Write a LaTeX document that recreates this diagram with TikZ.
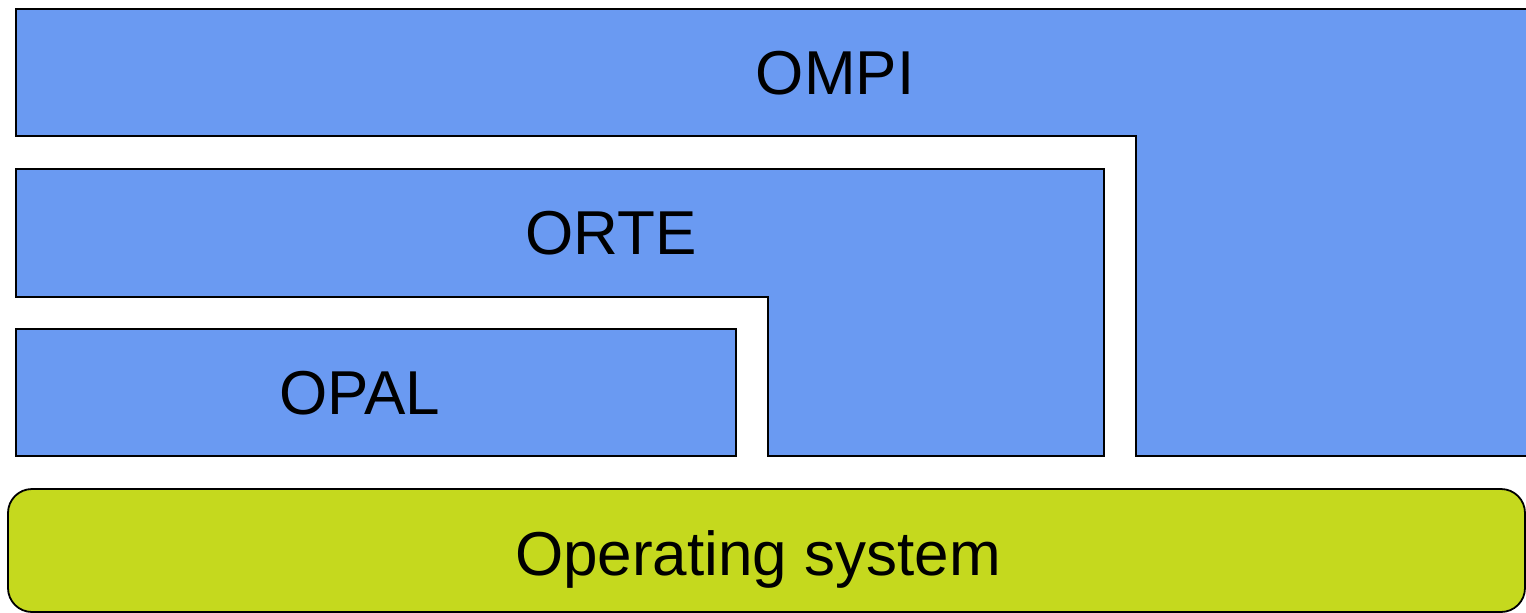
\documentclass[tikz,border=0pt]{standalone}
\usepackage{fontspec}
\setmainfont{Liberation Sans}
\usetikzlibrary{calc}
\definecolor{layerblue}{RGB}{106,154,242}
\definecolor{osgreen}{RGB}{197,217,30}

\begin{document}
\begin{tikzpicture}[x=1pt,y=-1pt,line width=1.4pt,line join=miter,
  layer/.style={draw=black,fill=layerblue},
  lbl/.style={anchor=base,inner sep=0pt,font=\fontsize{62}{70}\selectfont}]
  \useasboundingbox (0,0) rectangle (1526,613);
  %OMPI
  \coordinate (OMPItl) at (16,9);
  \coordinate (OMPIbr) at (1528,456);
  \coordinate (OMPIin) at (1136,136);
  \draw[layer] (OMPItl) -- (OMPItl -| OMPIbr) -- (OMPIbr) -- (OMPIbr -| OMPIin)
    -- (OMPIin) -- (OMPIin -| OMPItl) -- cycle;
  \node[lbl] (ompi) at (835,94) {OMPI};
  %ORTE
  \coordinate (ORTEtl) at (16,169);
  \coordinate (ORTEbr) at (1104,456);
  \coordinate (ORTEin) at (768,297);
  \draw[layer] (ORTEtl) -- (ORTEtl -| ORTEbr) -- (ORTEbr) -- (ORTEbr -| ORTEin)
    -- (ORTEin) -- (ORTEin -| ORTEtl) -- cycle;
  \node[lbl] (orte) at (611,254) {ORTE};
  %OPAL
  \coordinate (OPALtl) at (16,329);
  \coordinate (OPALbr) at (736,456);
  \draw[layer] (OPALtl) rectangle (OPALbr);
  \node[lbl] (opal) at (360,414) {OPAL};
  %OS
  \coordinate (OStl) at (8,489);
  \coordinate (OSbr) at (1525,612);
  \draw[fill=osgreen,line width=1.8pt,rounded corners=24pt] (OStl) rectangle (OSbr);
  \node[lbl] (os) at (758,575) {Operating system};
\end{tikzpicture}
\end{document}
